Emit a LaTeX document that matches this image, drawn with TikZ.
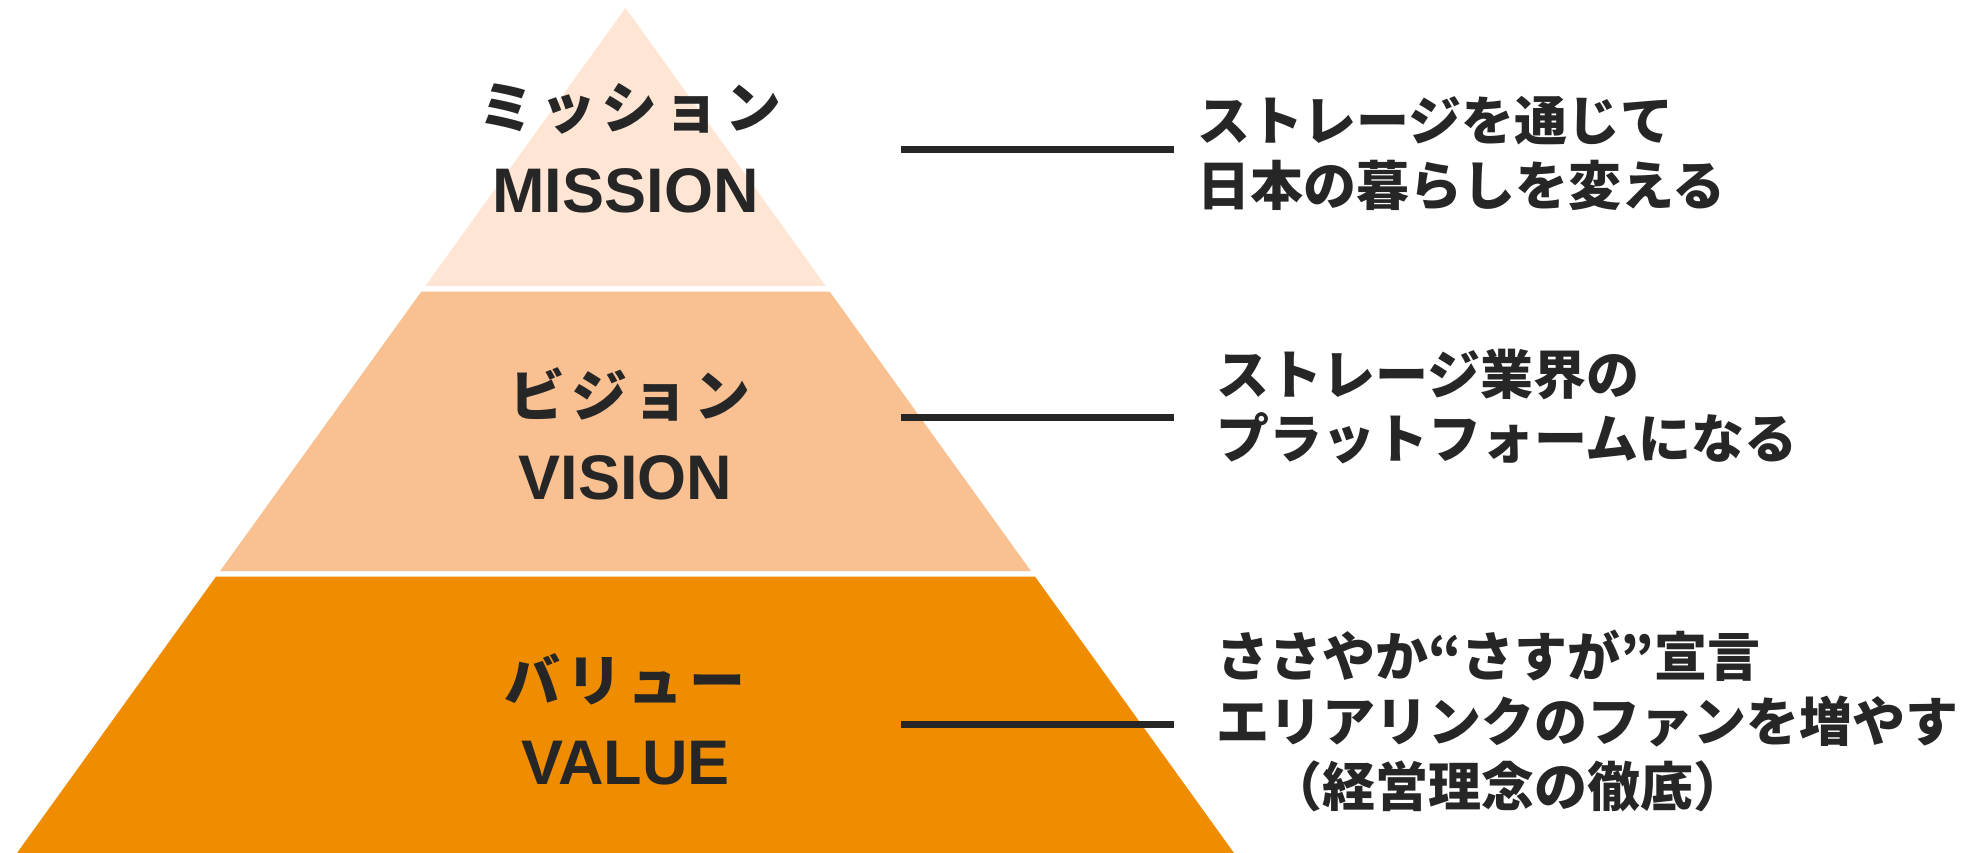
\documentclass[tikz,border=0pt]{standalone}
\usepackage{fontspec}
\setmainfont{Liberation Sans}
\newfontfamily\jplabel[LetterSpace=10]{Noto Sans CJK JP}
\newfontfamily\jptext{Noto Sans CJK JP}
\definecolor{lvlA}{HTML}{FFE5D4}
\definecolor{lvlB}{HTML}{F9C192}
\definecolor{lvlC}{HTML}{F08C00}
\definecolor{ink}{HTML}{262626}
\tikzset{
  enlabel/.style={inner sep=0pt, anchor=base, text=ink, font=\fontsize{63}{63}\selectfont\bfseries},
  jalabel/.style={inner sep=0pt, anchor=base, text=ink, font=\jplabel\fontsize{56}{56}\selectfont\bfseries},
  desc/.style={inner sep=0pt, anchor=base west, text=ink, font=\jptext\fontsize{53}{53}\selectfont\bfseries},
  conn/.style={draw=ink, line width=7pt}
}
\begin{document}
\begin{tikzpicture}[x=1pt,y=-1pt]
\useasboundingbox (0,0) rectangle (1967,853);
% pyramid bands
\fill[lvlA] (625.5,8) -- (825.7,286) -- (425.3,286) -- cycle;
\fill[lvlB] (421.4,291.5) -- (829.6,291.5) -- (1030.9,571) -- (220.1,571) -- cycle;
\fill[lvlC] (216.1,576.5) -- (1034.9,576.5) -- (1234,853) -- (17,853) -- cycle;
% labels
\node[jalabel] (missionja) at (630,129) {ミッション};
\node[enlabel] (missionen) at (625.5,213) {MISSION};
\node[jalabel] (visionja) at (630,416) {ビジョン};
\node[enlabel] (visionen) at (625.5,499.5) {VISION};
\node[jalabel] (valueja) at (625,701) {バリュー};
\node[enlabel] (valueen) at (625.5,784.5) {VALUE};
% connectors
\coordinate (l1s) at (901,149.5);
\coordinate (l1e) at (1174,149.5);
\coordinate (l2s) at (901,417);
\coordinate (l2e) at (1174,417);
\coordinate (l3s) at (901,724);
\coordinate (l3e) at (1174,724);
\draw[conn] (l1s) -- (l1e);
\draw[conn] (l2s) -- (l2e);
\draw[conn] (l3s) -- (l3e);
% descriptions
\node[desc] (d1a) at (1197,141) {ストレージを通じて};
\node[desc] (d1b) at (1197,206) {日本の暮らしを変える};
\node[desc] (d2a) at (1216,394) {ストレージ業界の};
\node[desc] (d2b) at (1216,458) {プラットフォームになる};
\node[desc] (d3a) at (1216,676) {ささやか“さすが”宣言};
\node[desc] (d3b) at (1216,741) {エリアリンクのファンを増やす};
\node[desc] (d3c) at (1216,806) {　（経営理念の徹底）};
\end{tikzpicture}
\end{document}
